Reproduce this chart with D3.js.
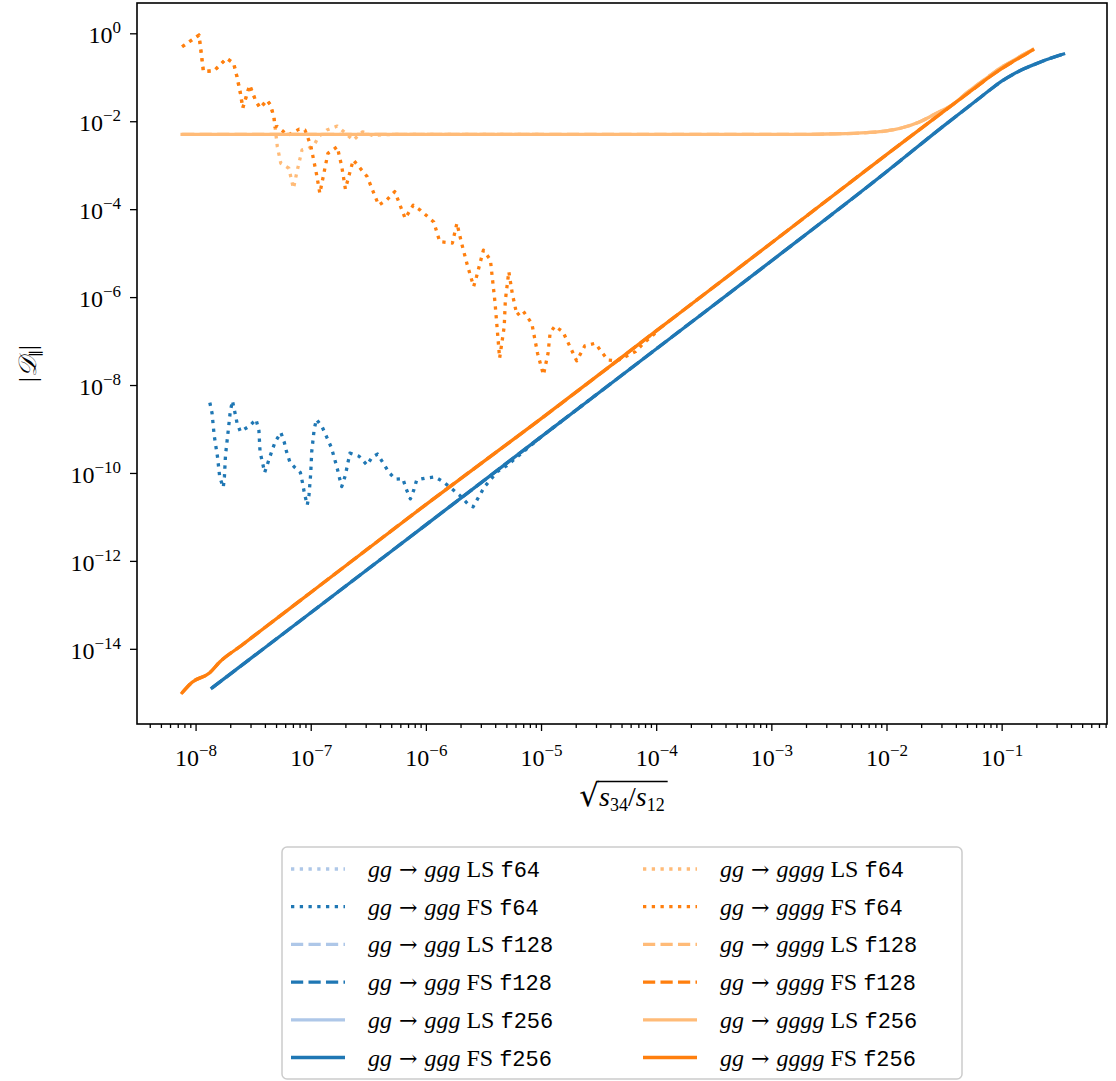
<!DOCTYPE html>
<html>
<head>
<meta charset="utf-8">
<script src="https://cdn.jsdelivr.net/npm/d3@7"></script>
<style>
  body { margin: 0; background: #fff; }
  svg { display: block; }
</style>
</head>
<body>
<svg id="chart" width="1116" height="1081"></svg>
<script>
// ---------------- DATA ----------------
// gg -> ggg, FS, f64 (dotted, noisy at small x)
const gggFS64_x = [1.33e-8,1.39e-8,1.45e-8,1.55e-8,1.62e-8,1.74e-8,1.78e-8,1.82e-8,1.91e-8,2.00e-8,
  2.09e-8,2.19e-8,2.29e-8,2.45e-8,2.95e-8,3.35e-8,3.55e-8,3.63e-8,3.80e-8,3.98e-8,
  4.27e-8,4.57e-8,4.90e-8,5.50e-8,5.89e-8,6.17e-8,6.61e-8,7.24e-8,8.13e-8,8.51e-8,
  8.81e-8,9.33e-8,9.66e-8,1.00e-7,1.02e-7,1.07e-7,1.12e-7,1.26e-7,1.38e-7,1.51e-7,
  1.60e-7,1.70e-7,1.78e-7,1.86e-7,2.00e-7,2.09e-7,2.19e-7,2.63e-7,3.09e-7,3.39e-7,
  3.80e-7,4.27e-7,4.79e-7,5.43e-7,6.31e-7,6.76e-7,7.33e-7,7.85e-7,8.32e-7,9.77e-7,
  1.20e-6,1.41e-6,1.70e-6,1.95e-6,2.29e-6,2.57e-6,2.88e-6,3.24e-6,4.17e-6,5.01e-6,
  1.00e-5,3.16e-5];
const gggFS64_y = [3.98e-9,2.29e-9,7.24e-10,2.34e-10,8.13e-11,4.68e-11,8.13e-11,2.57e-10,7.94e-10,2.45e-9,
  4.37e-9,2.45e-9,1.38e-9,8.71e-10,1.17e-9,1.66e-9,9.12e-10,3.02e-10,1.78e-10,1.02e-10,
  1.78e-10,3.02e-10,5.01e-10,8.32e-10,5.01e-10,3.02e-10,1.74e-10,1.35e-10,1.02e-10,5.75e-11,
  3.47e-11,1.86e-11,3.16e-11,9.77e-11,3.02e-10,9.55e-10,1.66e-9,1.10e-9,6.46e-10,3.80e-10,
  2.24e-10,1.26e-10,7.59e-11,4.90e-11,8.91e-11,1.58e-10,2.82e-10,2.40e-10,1.51e-10,2.24e-10,
  2.69e-10,1.66e-10,1.02e-10,7.24e-11,7.41e-11,4.27e-11,2.57e-11,4.07e-11,6.92e-11,7.59e-11,
  8.13e-11,6.31e-11,4.27e-11,3.16e-11,2.04e-11,1.70e-11,2.88e-11,4.90e-11,1.07e-10,1.45e-10,
  6.61e-10,6.61e-9];

// gg -> ggg, FS, f256 (solid)  (f128 coincides with it)
const gggFS256_x = [1.39e-8,1e-7,1e-6,1e-5,1e-4,1e-3,1e-2,3.16e-2,6.31e-2,7.94e-2,1e-1,1.26e-1,1.58e-1,2.0e-1,2.51e-1,3.45e-1];
const gggFS256_y = [1.29e-15,6.61e-14,6.61e-12,6.61e-10,6.61e-8,6.61e-6,7.08e-4,7.94e-3,3.24e-2,5.19e-2,8.13e-2,0.117,0.158,0.204,0.257,0.339];

// gg -> ggg, LS : no visible values on the log axis
const gggLS_x = [];
const gggLS_y = [];

// gg -> gggg, FS, f64 (dotted)
const ggggFS64_x = [7.64e-9,1.07e-8,1.12e-8,1.17e-8,1.45e-8,1.86e-8,2.14e-8,2.29e-8,2.45e-8,2.57e-8,
  2.95e-8,3.31e-8,3.63e-8,4.17e-8,4.47e-8,4.79e-8,4.90e-8,5.13e-8,6.31e-8,7.94e-8,
  8.91e-8,1.00e-7,1.12e-7,1.20e-7,1.41e-7,1.70e-7,1.86e-7,2.00e-7,2.34e-7,3.09e-7,
  3.89e-7,4.57e-7,5.37e-7,6.61e-7,7.76e-7,8.91e-7,1.17e-6,1.32e-6,1.70e-6,1.86e-6,
  2.04e-6,2.29e-6,2.60e-6,2.75e-6,3.16e-6,3.63e-6,3.98e-6,4.37e-6,4.79e-6,4.90e-6,5.25e-6,
  5.62e-6,6.17e-6,6.92e-6,8.32e-6,9.33e-6,1.05e-5,1.15e-5,1.20e-5,1.32e-5,1.55e-5,
  2.04e-5,2.40e-5,2.95e-5,3.39e-5,3.80e-5,4.57e-5,6.61e-5,7.76e-5,1.00e-4];
const ggggFS64_y = [0.495,0.912,0.355,0.135,0.141,0.269,0.209,0.102,4.37e-2,2.00e-2,
  6.61e-2,3.02e-2,2.00e-2,3.02e-2,2.34e-2,1.26e-2,7.41e-3,7.59e-3,4.79e-3,6.61e-3,
  6.31e-3,2.82e-3,6.46e-4,2.29e-4,1.86e-3,2.63e-3,9.33e-4,2.88e-4,1.32e-3,5.50e-4,
  1.23e-4,1.62e-4,2.51e-4,6.17e-5,1.23e-4,9.55e-5,5.13e-5,1.82e-5,1.70e-5,4.79e-5,
  1.70e-5,5.37e-6,1.74e-6,2.88e-6,1.17e-5,7.08e-6,7.76e-7,4.07e-8,2.14e-7,8.51e-7,3.80e-6,
  1.23e-6,3.89e-7,5.01e-7,2.51e-7,5.25e-8,1.70e-8,5.25e-8,1.55e-7,2.19e-7,1.62e-7,
  3.55e-8,7.76e-8,8.91e-8,5.50e-8,3.72e-8,3.55e-8,5.75e-8,8.91e-8,1.58e-7];

// gg -> gggg, LS, f64 (dotted)
const ggggLS64_x = [7.64e-9,1.07e-8,1.12e-8,1.17e-8,1.45e-8,1.86e-8,2.14e-8,2.29e-8,2.45e-8,2.57e-8,
  2.95e-8,3.31e-8,3.63e-8,4.17e-8,4.47e-8,4.79e-8,4.90e-8,5.13e-8,5.50e-8,6.46e-8,
  7.08e-8,7.59e-8,8.41e-8,9.55e-8,1.07e-7,1.17e-7,1.38e-7,1.70e-7,2.00e-7,2.34e-7,
  2.82e-7,3.39e-7,5.01e-7,1.00e-6,1.00e-5];
const ggggLS64_y = [0.495,0.912,0.355,0.135,0.141,0.269,0.209,0.102,4.37e-2,2.00e-2,
  6.61e-2,3.02e-2,2.00e-2,3.02e-2,2.34e-2,1.26e-2,7.41e-3,2.63e-3,1.10e-3,8.51e-4,
  2.95e-4,7.08e-4,2.24e-3,2.40e-3,2.88e-3,4.47e-3,6.31e-3,7.76e-3,5.37e-3,3.72e-3,
  5.75e-3,4.79e-3,5.0e-3,5.0e-3,5.0e-3];

// gg -> gggg, FS, f256 (solid) (f128 coincides)
const ggggFS256_x = [7.64e-9,9.33e-9,1.32e-8,1.62e-8,2.5e-8,4.0e-8,1e-7,1e-6,9.2e-6,1e-4,1e-3,1e-2,3.16e-2,6.31e-2,7.94e-2,1e-1,1.26e-1,1.58e-1,1.86e-1];
const ggggFS256_y = [1.00e-15,1.74e-15,2.82e-15,5.01e-15,1.19e-14,3.06e-14,1.91e-13,1.91e-11,1.45e-9,1.70e-7,1.70e-5,1.74e-3,1.70e-2,6.61e-2,0.104,0.158,0.229,0.324,0.417];

// gg -> gggg, LS, f256 (solid) (f128 coincides)
const ggggLS256_x = [7.64e-9,1e-7,1e-6,1e-5,1e-4,1e-3,1.78e-3,3.16e-3,6.76e-3,1e-2,1.32e-2,1.95e-2,2.54e-2,3.09e-2,3.67e-2,5.01e-2,6.31e-2,7.94e-2,1e-1,1.26e-1,1.58e-1,1.86e-1];
const ggggLS256_y = [5.0e-3,5.0e-3,5.0e-3,5.0e-3,5.0e-3,5.0e-3,5.0e-3,5.13e-3,5.50e-3,6.03e-3,6.92e-3,9.77e-3,1.38e-2,1.80e-2,2.29e-2,4.47e-2,7.08e-2,0.110,0.170,0.240,0.339,0.427];

// Ticks
const xMajorTicks = [1e-8,1e-7,1e-6,1e-5,1e-4,1e-3,1e-2,1e-1];
const yMajorTicks = [1,1e-2,1e-4,1e-6,1e-8,1e-10,1e-12,1e-14];

// Legend text pieces
const processes = ["ggg", "gggg"];
const schemes = ["LS", "FS"];
const precisions = ["f64", "f128", "f256"];

// ---------------- STYLE ----------------
const COLORS = { ggg: { LS: "#aec7e8", FS: "#1f77b4" }, gggg: { LS: "#ffbb78", FS: "#ff7f0e" } };
const LW = 3.3;
const DASH = { f64: `${LW} ${1.65*LW}`, f128: `${3.7*LW} ${1.6*LW}`, f256: null };
const SERIF = "'Liberation Serif','DejaVu Serif',serif";
const MONO = "'Liberation Mono','DejaVu Sans Mono',monospace";

const M = { left: 137, top: 3, right: 1107, bottom: 724 };

const svg = d3.select("#chart");

const x = d3.scaleLog().domain([3.10e-9, 0.822]).range([M.left, M.right]);
const y = d3.scaleLog().domain([1.95e-16, 4.89]).range([M.bottom, M.top]);

function zip(xs, ys) { return xs.map((v, i) => [v, ys[i]]); }
const seriesData = {
  ggg: {
    LS: { f64: zip(gggLS_x, gggLS_y), f128: zip(gggLS_x, gggLS_y), f256: zip(gggLS_x, gggLS_y) },
    FS: { f64: zip(gggFS64_x, gggFS64_y), f128: zip(gggFS256_x, gggFS256_y), f256: zip(gggFS256_x, gggFS256_y) }
  },
  gggg: {
    LS: { f64: zip(ggggLS64_x, ggggLS64_y), f128: zip(ggggLS256_x, ggggLS256_y), f256: zip(ggggLS256_x, ggggLS256_y) },
    FS: { f64: zip(ggggFS64_x, ggggFS64_y), f128: zip(ggggFS256_x, ggggFS256_y), f256: zip(ggggFS256_x, ggggFS256_y) }
  }
};
const series = [];
processes.forEach(p => precisions.forEach(pr => schemes.forEach(s => {
  series.push({ proc: p, scheme: s, prec: pr, color: COLORS[p][s], dash: DASH[pr], data: seriesData[p][s][pr] });
})));

svg.append("defs").append("clipPath").attr("id", "clip")
  .append("rect").attr("x", M.left).attr("y", M.top)
  .attr("width", M.right - M.left).attr("height", M.bottom - M.top);

const lineLinear = d3.line().x(d => x(d[0])).y(d => y(d[1]));
const lineSmooth = d3.line().x(d => x(d[0])).y(d => y(d[1])).curve(d3.curveMonotoneX);
const plot = svg.append("g").attr("clip-path", "url(#clip)");
series.forEach(s => {
  if (!s.data.length) return;
  const gen = s.prec !== "f64" ? lineSmooth : lineLinear;
  plot.append("path")
    .attr("d", gen(s.data))
    .attr("fill", "none")
    .attr("stroke", s.color)
    .attr("stroke-width", LW)
    .attr("stroke-dasharray", s.dash)
    .attr("stroke-linejoin", "round")
    .attr("stroke-linecap", s.dash ? "butt" : "square");
});

// ---------------- AXES ----------------
function supLabel(sel, d) {
  const e = Math.round(Math.log10(d));
  const t = d3.select(sel);
  t.text(null);
  t.append("tspan").text("10");
  t.append("tspan").attr("dy", -10).attr("font-size", 17).text(e < 0 ? "\u2212" + (-e) : String(e));
}

const xMinor = [];
for (let e = -9; e <= -1; e++) for (let m = 2; m <= 9; m++) {
  const v = m * Math.pow(10, e);
  if (v >= x.domain()[0] && v <= x.domain()[1]) xMinor.push(v);
}

const gxMinor = svg.append("g").attr("transform", `translate(0,${M.bottom})`)
  .call(d3.axisBottom(x).tickValues(xMinor).tickSize(4).tickFormat(""));
const gx = svg.append("g").attr("transform", `translate(0,${M.bottom})`)
  .call(d3.axisBottom(x).tickValues(xMajorTicks).tickSize(7).tickPadding(10).tickFormat(""));
gx.selectAll(".tick text").each(function (d) { supLabel(this, d); })
  .attr("font-family", SERIF).attr("font-size", 24).attr("fill", "#000").attr("dy", "1.05em");

const gy = svg.append("g").attr("transform", `translate(${M.left},0)`)
  .call(d3.axisLeft(y).tickValues(yMajorTicks).tickSize(7).tickPadding(9).tickFormat(""));
gy.selectAll(".tick text").each(function (d) { supLabel(this, d); })
  .attr("font-family", SERIF).attr("font-size", 24).attr("fill", "#000").attr("dy", "0.4em");

[gx, gxMinor, gy].forEach(g => {
  g.select(".domain").remove();
  g.selectAll(".tick line").attr("stroke", "#000").attr("stroke-width", 1.3);
});

svg.append("rect").attr("x", M.left).attr("y", M.top)
  .attr("width", M.right - M.left).attr("height", M.bottom - M.top)
  .attr("fill", "none").attr("stroke", "#000").attr("stroke-width", 1.6);

// y label |D_||
const yl = svg.append("text")
  .attr("transform", `translate(36,${(M.top + M.bottom) / 2}) rotate(-90)`)
  .attr("text-anchor", "middle").attr("font-family", SERIF).attr("font-size", 25);
yl.append("tspan").text("|");
yl.append("tspan").attr("font-style", "italic").text("\uD835\uDC9F");
yl.append("tspan").attr("font-size", 15).attr("dy", 5).text("\u2225");
yl.append("tspan").attr("dy", -5).text("|");

// x label sqrt(s34/s12)
const xlG = svg.append("g");
const xlT = xlG.append("text").attr("font-family", SERIF).attr("font-size", 28).attr("y", 806);
const rad = xlT.append("tspan").attr("font-family", "'DejaVu Serif',serif").attr("font-size", 31).text("\u221A");
xlT.append("tspan").attr("font-style", "italic").text("s");
xlT.append("tspan").attr("font-size", 18).attr("dy", 5).text("34");
xlT.append("tspan").attr("dy", -5).text("/");
xlT.append("tspan").attr("font-style", "italic").text("s");
xlT.append("tspan").attr("font-size", 18).attr("dy", 5).text("12");
const xlW = xlT.node().getComputedTextLength();
const cx = (M.left + M.right) / 2;
xlT.attr("x", cx - xlW / 2);
const radW = rad.node().getComputedTextLength();
xlG.append("line")
  .attr("x1", cx - xlW / 2 + radW - 1.5).attr("x2", cx + xlW / 2 + 3)
  .attr("y1", 781.5).attr("y2", 781.5)
  .attr("stroke", "#000").attr("stroke-width", 1.6);

// ---------------- LEGEND ----------------
const LG = { x: 282, y: 847, w: 680, h: 232, row0: 869, rowStep: 37.7 };
const legend = svg.append("g");
legend.append("rect").attr("x", LG.x).attr("y", LG.y).attr("width", LG.w).attr("height", LG.h)
  .attr("rx", 5).attr("fill", "#fff").attr("fill-opacity", 0.8)
  .attr("stroke", "#cccccc").attr("stroke-width", 1.5);
const colHandle = [291, 643], colText = [368, 720], handleLen = 54;
series.forEach((s, i) => {
  const col = processes.indexOf(s.proc);
  const row = i % 6;
  const yy = LG.row0 + row * LG.rowStep;
  legend.append("line")
    .attr("x1", colHandle[col]).attr("x2", colHandle[col] + handleLen)
    .attr("y1", yy).attr("y2", yy)
    .attr("stroke", s.color).attr("stroke-width", LW)
    .attr("stroke-dasharray", s.dash).attr("stroke-linecap", "butt");
  const t = legend.append("text").attr("x", colText[col]).attr("y", yy + 8)
    .attr("font-family", SERIF).attr("font-size", 24).attr("fill", "#000");
  t.append("tspan").attr("font-style", "italic").text("gg");
  t.append("tspan").attr("font-family", "'DejaVu Serif',serif").attr("font-size", 22).text(" \u2192 ");
  t.append("tspan").attr("font-style", "italic").text(s.proc);
  t.append("tspan").text(" " + s.scheme + " ");
  t.append("tspan").attr("font-family", MONO).attr("font-size", 22).text(s.prec);
});
</script>
</body>
</html>
